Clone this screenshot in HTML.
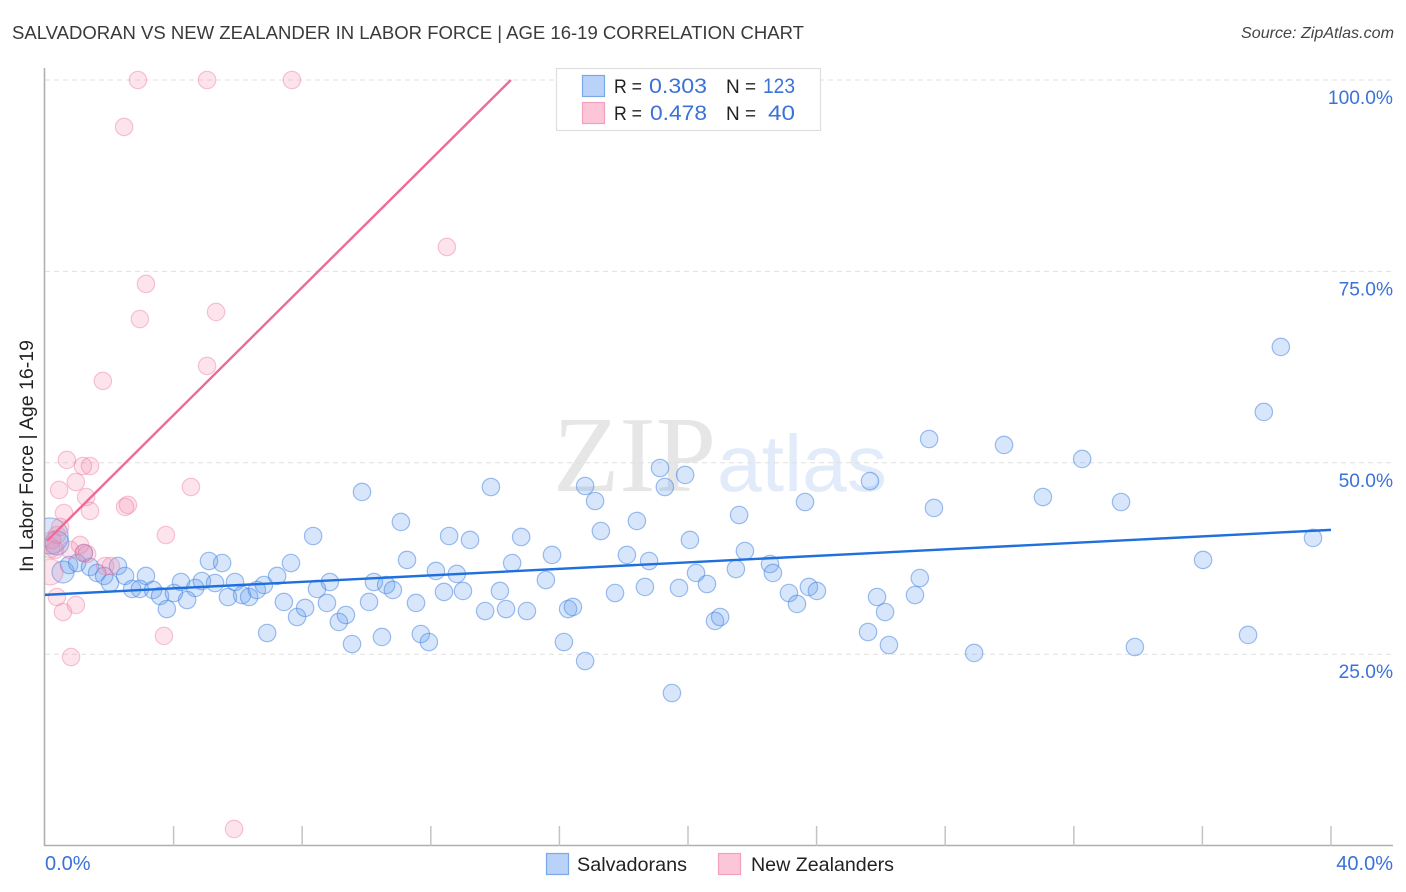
<!DOCTYPE html>
<html lang="en">
<head>
<meta charset="utf-8">
<title>Salvadoran vs New Zealander in Labor Force | Age 16-19 Correlation Chart</title>
<style>
html,body{margin:0;padding:0;background:#fff;width:1406px;height:892px;overflow:hidden}
svg{display:block;font-family:"Liberation Sans",sans-serif}
</style>
</head>
<body>
<svg id="chart" xmlns="http://www.w3.org/2000/svg" width="1406" height="892" viewBox="0 0 1406 892">
  <defs><clipPath id="plot-clip"><rect x="45" y="60" width="1350" height="786"/></clipPath></defs>
  <text x="12" y="39" font-size="18.6" fill="#3a3a3a" textLength="792" lengthAdjust="spacingAndGlyphs">SALVADORAN VS NEW ZEALANDER IN LABOR FORCE | AGE 16-19 CORRELATION CHART</text>
  <text x="1394" y="38" font-size="15.6" font-style="italic" fill="#444" text-anchor="end" textLength="153" lengthAdjust="spacingAndGlyphs">Source: ZipAtlas.com</text>
  <g>
    <text x="553" y="491" font-size="108" fill="#e6e6e6" style="font-family:'Liberation Serif',serif" textLength="163" lengthAdjust="spacingAndGlyphs">ZIP</text>
    <text x="717" y="491" font-size="80" fill="#e2ebf9" style="font-family:'Liberation Sans',sans-serif" textLength="170" lengthAdjust="spacingAndGlyphs">atlas</text>
  </g>
  <g id="grid"></g>
  <g id="axes"></g>
  <g id="blue-points" clip-path="url(#plot-clip)"></g>
  <g id="pink-points" clip-path="url(#plot-clip)"></g>
  <g id="trends" clip-path="url(#plot-clip)"></g>
  <text transform="translate(33,456) rotate(-90)" font-size="19" fill="#222" text-anchor="middle" textLength="232" lengthAdjust="spacingAndGlyphs">In Labor Force | Age 16-19</text>
  <g>
    <rect x="556.5" y="68.5" width="264" height="62" fill="#fff" stroke="#dedede" stroke-width="1.2"/>
    <rect x="582.5" y="75.5" width="22" height="21" fill="#b9d3f8" stroke="#7ba8e6" stroke-width="1.2"/>
    <rect x="582.5" y="102.5" width="22" height="21" fill="#fcc6d8" stroke="#f2a0bc" stroke-width="1.2"/>
    <text x="614" y="93" font-size="19.5" fill="#222" textLength="28" lengthAdjust="spacingAndGlyphs">R =</text>
    <text x="649" y="93" font-size="21" fill="#3a72d8" textLength="58" lengthAdjust="spacingAndGlyphs">0.303</text>
    <text x="726" y="93" font-size="19.5" fill="#222" textLength="30" lengthAdjust="spacingAndGlyphs">N =</text>
    <text x="763" y="93" font-size="21" fill="#3a72d8" textLength="32" lengthAdjust="spacingAndGlyphs">123</text>
    <text x="614" y="120" font-size="19.5" fill="#222" textLength="28" lengthAdjust="spacingAndGlyphs">R =</text>
    <text x="650" y="120" font-size="21" fill="#3a72d8" textLength="57" lengthAdjust="spacingAndGlyphs">0.478</text>
    <text x="726" y="120" font-size="19.5" fill="#222" textLength="30" lengthAdjust="spacingAndGlyphs">N =</text>
    <text x="768" y="120" font-size="21" fill="#3a72d8" textLength="27" lengthAdjust="spacingAndGlyphs">40</text>
  </g>
  <g>
    <rect x="546.5" y="853.5" width="22" height="21" fill="#b9d3f8" stroke="#7ba8e6" stroke-width="1.2"/>
    <text x="577" y="871" font-size="19.5" fill="#222" textLength="110" lengthAdjust="spacingAndGlyphs">Salvadorans</text>
    <rect x="718.5" y="853.5" width="22" height="21" fill="#fcc6d8" stroke="#f2a0bc" stroke-width="1.2"/>
    <text x="751" y="871" font-size="19.5" fill="#222" textLength="143" lengthAdjust="spacingAndGlyphs">New Zealanders</text>
  </g>
</svg>
<script>
const xTickValues = [4, 8, 12, 16, 20, 24, 28, 32, 36, 40];
const xEdgeLabels = ["0.0%", "40.0%"];
const yGridValues = [25, 50, 75, 100];
const yTickLabels = ["25.0%", "50.0%", "75.0%", "100.0%"];

const salvadoranX = [0.16,0.37,0.56,0.75,1.00,1.21,1.40,1.62,1.84,2.02,2.27,2.49,2.71,2.95,3.14,3.36,3.58,3.79,4.01,4.23,4.42,4.67,4.88,5.10,5.29,5.51,5.69,5.91,6.13,6.35,6.59,6.81,6.91,7.22,7.43,7.65,7.84,8.09,8.34,8.46,8.77,8.86,9.14,9.36,9.55,9.86,10.08,10.23,10.48,10.61,10.82,11.07,11.26,11.54,11.69,11.94,12.16,12.41,12.57,12.81,13.00,13.22,13.69,13.87,14.15,14.34,14.53,14.81,14.99,15.58,15.77,16.14,16.27,16.42,16.80,16.80,17.11,17.29,17.73,18.10,18.41,18.66,18.79,19.13,19.28,19.50,19.72,19.91,20.06,20.25,20.59,20.84,21.00,21.49,21.59,21.77,22.55,22.64,23.14,23.39,23.64,23.76,24.01,25.60,25.66,25.88,26.13,26.25,27.06,27.21,27.50,27.65,28.90,29.83,31.04,32.26,33.47,33.90,36.02,37.42,37.91,38.44,39.44];
const salvadoranY = [40.44,39.53,35.74,36.65,36.91,38.22,36.39,35.61,35.22,34.30,36.52,35.22,33.52,33.52,35.22,33.39,32.60,30.90,32.99,34.43,32.08,33.65,34.56,37.17,34.30,36.91,32.47,34.43,32.73,32.47,33.39,34.04,27.77,35.22,31.82,36.91,29.86,31.04,40.44,33.52,31.69,34.43,29.21,30.12,26.33,46.19,31.82,34.43,27.25,34.04,33.39,42.27,37.31,31.69,27.64,26.59,35.87,33.13,40.44,35.48,33.26,39.92,30.64,46.84,33.26,30.90,36.91,40.31,30.64,34.69,37.96,26.59,30.90,31.17,46.97,24.11,45.01,41.09,32.99,37.96,42.40,33.78,37.17,49.32,46.84,19.93,33.65,48.41,39.92,35.61,34.17,29.34,29.86,36.13,43.18,38.48,36.78,35.61,32.99,31.56,44.88,33.78,33.26,27.90,47.62,32.47,30.51,26.20,32.73,34.95,53.11,44.10,25.16,52.33,45.53,50.50,44.88,25.94,37.31,27.51,56.64,65.13,40.18];
const salvadoranWeights = [4.3, 1.9, 1.6];

const newZealanderX = [2.89,5.04,7.68,2.46,12.50,3.14,2.95,5.32,1.80,5.04,0.68,1.18,1.40,0.44,0.96,4.54,1.28,1.40,0.59,2.49,2.58,3.76,0.47,0.37,1.09,0.78,1.31,1.21,1.87,2.05,0.16,0.16,0.22,0.31,0.37,0.96,0.56,0.81,3.70,5.88];
const newZealanderY = [100,100,100,93.87,78.19,73.36,68.78,69.70,60.69,62.65,50.37,49.58,49.58,46.45,47.49,46.84,45.53,43.71,43.44,44.23,44.49,40.57,41.62,40.57,39.27,38.61,38.09,38.22,36.52,36.52,35.74,38.87,39.92,38.61,32.47,31.43,30.51,24.63,27.38,2.17];
const newZealanderWeights = [1,1,1,1,1,1,1,1,1,1,1,1,1,1,1,1,1,1,1,1,1,1,1,1,1,1,1,1,1,1,2.2,1.3];

const salvadoranTrendX = [0, 40];
const salvadoranTrendY = [32.75, 41.24];
const newZealanderTrendX = [0.06, 14.49];
const newZealanderTrendY = [39.8, 100];

const xScale = v => 45 + v * 32.15;
const yScale = v => 845.6 - v * 7.656;
const radiusScale = w => 8.7 * Math.sqrt(w);
const NS = 'http://www.w3.org/2000/svg';
const make = (tag, attrs, parent) => {
  const el = document.createElementNS(NS, tag);
  Object.keys(attrs).forEach(k => el.setAttribute(k, attrs[k]));
  parent.appendChild(el);
  return el;
};

const grid = document.getElementById('grid');
const axes = document.getElementById('axes');

yGridValues.forEach((v, i) => {
  const line = make('line', {x1: 45, x2: 1393, y1: yScale(v), y2: yScale(v), stroke: '#e0e0e0', 'stroke-width': 1, 'stroke-dasharray': '5 4'}, grid);
  
  
  const label = make('text', {x: 1393, y: yScale(v) + 24, 'font-size': 19.2, fill: '#3a72d8', 'text-anchor': 'end'}, axes);
  
  
  label.textContent = yTickLabels[i];
});

const yAxis = make('line', {x1: 44.5, x2: 44.5, y1: 68, y2: 846, stroke: '#b0b0b0', 'stroke-width': 1.6}, axes);


const xAxis = make('line', {x1: 44, x2: 1393, y1: 845.5, y2: 845.5, stroke: '#b0b0b0', 'stroke-width': 1.6}, axes);



xTickValues.forEach(v => {
  const tick = make('line', {x1: xScale(v), x2: xScale(v), y1: 826, y2: 846, stroke: '#c4c4c4', 'stroke-width': 1.5}, axes);
  
  
});

const xLabelLeft = make('text', {x: 45, y: 870, 'font-size': 20, fill: '#3a72d8'}, axes);


xLabelLeft.textContent = xEdgeLabels[0];
const xLabelRight = make('text', {x: 1393, y: 870, 'font-size': 20, fill: '#3a72d8', 'text-anchor': 'end'}, axes);


xLabelRight.textContent = xEdgeLabels[1];

const bluePoints = document.getElementById('blue-points');
salvadoranX.forEach((x, i) => {
  const c = make('circle', {cx: xScale(x), cy: yScale(salvadoranY[i]), r: radiusScale(salvadoranWeights[i] || 1), fill: 'rgba(96,156,238,0.25)', stroke: 'rgba(64,128,224,0.5)', 'stroke-width': 1.2}, bluePoints);
  
  
});

const pinkPoints = document.getElementById('pink-points');
newZealanderX.forEach((x, i) => {
  const c = make('circle', {cx: xScale(x), cy: yScale(newZealanderY[i]), r: radiusScale(newZealanderWeights[i] || 1), fill: 'rgba(245,130,170,0.22)', stroke: 'rgba(235,120,160,0.42)', 'stroke-width': 1.2}, pinkPoints);
  
  
});

const trends = document.getElementById('trends');
const blueTrend = make('line', {x1: xScale(salvadoranTrendX[0]), y1: yScale(salvadoranTrendY[0]), x2: xScale(salvadoranTrendX[1]), y2: yScale(salvadoranTrendY[1]), stroke: '#1f6fdc', 'stroke-width': 2.4}, trends);


const pinkTrend = make('line', {x1: xScale(newZealanderTrendX[0]), y1: yScale(newZealanderTrendY[0]), x2: xScale(newZealanderTrendX[1]), y2: yScale(newZealanderTrendY[1]), stroke: '#ec6b97', 'stroke-width': 2.4}, trends);


</script>
</body>
</html>
